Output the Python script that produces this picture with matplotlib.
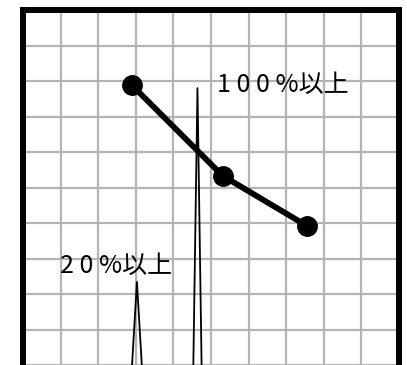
import numpy as np
import matplotlib.pyplot as plt

plt.rcParams['font.family'] = ['Liberation Sans Narrow', 'Noto Sans CJK JP', 'DejaVu Sans']

# main line points (grid units)
line_x = [2.89, 5.31, 7.55]
line_y = [7.89, 5.33, 3.92]

# thin spikes: centre x, peak height, half base width
spike_x = [4.64, 3.03]
spike_h = [7.80, 2.34]
spike_w = [0.11, 0.13]

labels = ["1 0 0 %以上", "2 0 %以上"]
label_x = [5.16, 0.98]
label_y = [7.89, 2.79]

fig = plt.figure(figsize=(4.07, 3.65), dpi=100)
ax = fig.add_axes([23/407, 0, 376/407, 355/365])

ax.set_xlim(0, 10)
ax.set_ylim(0, 10)
ax.set_xticks(np.arange(0, 11, 1))
ax.set_yticks(np.arange(0, 11, 1))
ax.grid(color='#b4b4b4', linewidth=1.6)
ax.tick_params(length=0, labelbottom=False, labelleft=False)
for s in ['left', 'right', 'top']:
    ax.spines[s].set_linewidth(4.3)
ax.spines['bottom'].set_visible(False)

# spikes
for cx, h, w in zip(spike_x, spike_h, spike_w):
    ax.plot([cx - w, cx, cx + w], [0, h, 0], color='black', linewidth=1.3)

ax.plot(line_x, line_y, color='black', linewidth=4.2, marker='o', markersize=14)

for t, tx, ty in zip(labels, label_x, label_y):
    ax.text(tx, ty, t, fontsize=18, va='center', ha='left')

fig.savefig('out.png', dpi=100)
